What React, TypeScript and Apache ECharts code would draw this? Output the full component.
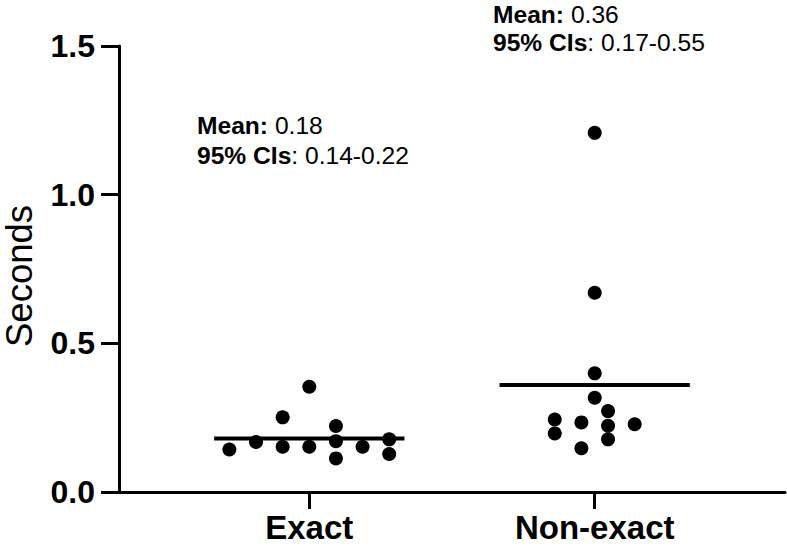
import React, { useEffect, useRef } from "react";
import * as echarts from "echarts";

const categories = ["Exact", "Non-exact"];
const categoryPositions = [1, 2.5];
const yTicks = [0, 0.5, 1.0, 1.5];

const exactX = [0.58, 0.72, 0.86, 0.86, 1.0, 1.0, 1.14, 1.14, 1.14, 1.28, 1.42, 1.42];
const exactY = [0.143, 0.168, 0.251, 0.152, 0.354, 0.152, 0.222, 0.171, 0.113, 0.152, 0.177, 0.128];

const nonExactX = [2.5, 2.5, 2.5, 2.5, 2.57, 2.57, 2.57, 2.29, 2.29, 2.43, 2.43, 2.71];
const nonExactY = [1.208, 0.67, 0.399, 0.317, 0.272, 0.223, 0.177, 0.244, 0.197, 0.234, 0.147, 0.228];

const means = [0.18, 0.36];
const meanLabels = ["0.18", "0.36"];
const ciLabels = ["0.14-0.22", "0.17-0.55"];

export default function App() {
  const ref = useRef<HTMLDivElement>(null);
  useEffect(() => {
    const chart = echarts.init(ref.current as HTMLDivElement, null, { renderer: "svg" });
    const font = "'Liberation Sans', Arial, Helvetica, sans-serif";
    const axisLineStyle = { color: "#000", width: 3 };
    const annFont = 24.6;
    const annLH = [29.5, 28.5];
    const rich = {
      b: { fontWeight: "bold", fontSize: annFont, fontFamily: font, fill: "#000" },
      r: { fontWeight: "normal", fontSize: annFont, fontFamily: font, fill: "#000" },
    };
    const annPos = [
      [197, 111],
      [493, 0],
    ];
    const option = {
      animation: false,
      backgroundColor: "#ffffff",
      grid: { left: 119, right: 2, top: 46, bottom: 54, containLabel: false, outerBoundsMode: "none" },
      xAxis: {
        type: "value",
        min: 0,
        max: 3.5,
        splitLine: { show: false },
        axisLine: { show: true, lineStyle: axisLineStyle },
        axisTick: { show: true, customValues: categoryPositions, length: 17, lineStyle: axisLineStyle },
        axisLabel: {
          customValues: categoryPositions,
          formatter: (v: number) => {
            const i = categoryPositions.indexOf(v);
            return i >= 0 ? categories[i] : "";
          },
          color: "#000",
          fontWeight: "bold",
          fontSize: 33,
          lineHeight: 33,
          fontFamily: font,
          margin: 19,
        },
      },
      yAxis: {
        type: "value",
        min: yTicks[0],
        max: yTicks[yTicks.length - 1],
        interval: 0.5,
        name: "Seconds",
        nameLocation: "middle",
        nameGap: 81,
        nameRotate: 90,
        nameTextStyle: {
          color: "#000",
          fontSize: 36.5,
          fontFamily: font,
          fontWeight: "normal",
          padding: [0, 14, 0, 0],
        },
        splitLine: { show: false },
        axisLine: { show: true, lineStyle: axisLineStyle },
        axisTick: { show: true, length: 18, lineStyle: axisLineStyle },
        axisLabel: {
          formatter: (v: number) => v.toFixed(1),
          color: "#000",
          fontWeight: "bold",
          fontSize: 32,
          fontFamily: font,
          margin: 24,
        },
      },
      series: [
        ...means.map((m, i) => ({
          type: "line",
          data: [
            [categoryPositions[i] - 0.5, m],
            [categoryPositions[i] + 0.5, m],
          ],
          symbol: "none",
          lineStyle: { color: "#000", width: 4, opacity: 1 },
          z: 2,
          silent: true,
        })),
        {
          type: "scatter",
          data: exactX.map((x, i) => [x, exactY[i]]),
          symbolSize: 14,
          itemStyle: { color: "#000", opacity: 1 },
          z: 3,
        },
        {
          type: "scatter",
          data: nonExactX.map((x, i) => [x, nonExactY[i]]),
          symbolSize: 14,
          itemStyle: { color: "#000", opacity: 1 },
          z: 3,
        },
      ],
      graphic: means.map((_, i) => ({
        type: "text",
        x: annPos[i][0],
        y: annPos[i][1],
        style: {
          text: `{b|Mean:}{r| ${meanLabels[i]}}\n{b|95% CIs}{r|: ${ciLabels[i]}}`,
          rich: {
            b: { ...rich.b, lineHeight: annLH[i] },
            r: { ...rich.r, lineHeight: annLH[i] },
          },
          fontSize: annFont,
          fontFamily: font,
          lineHeight: annLH[i],
          fill: "#000",
          verticalAlign: "top",
          align: "left",
        },
      })),
    };
    chart.setOption(option as any);
    return () => chart.dispose();
  }, []);
  return (
    <div
      ref={ref}
      style={{ position: "absolute", left: 0, top: 0, width: 787, height: 546, background: "#fff" }}
    />
  );
}
